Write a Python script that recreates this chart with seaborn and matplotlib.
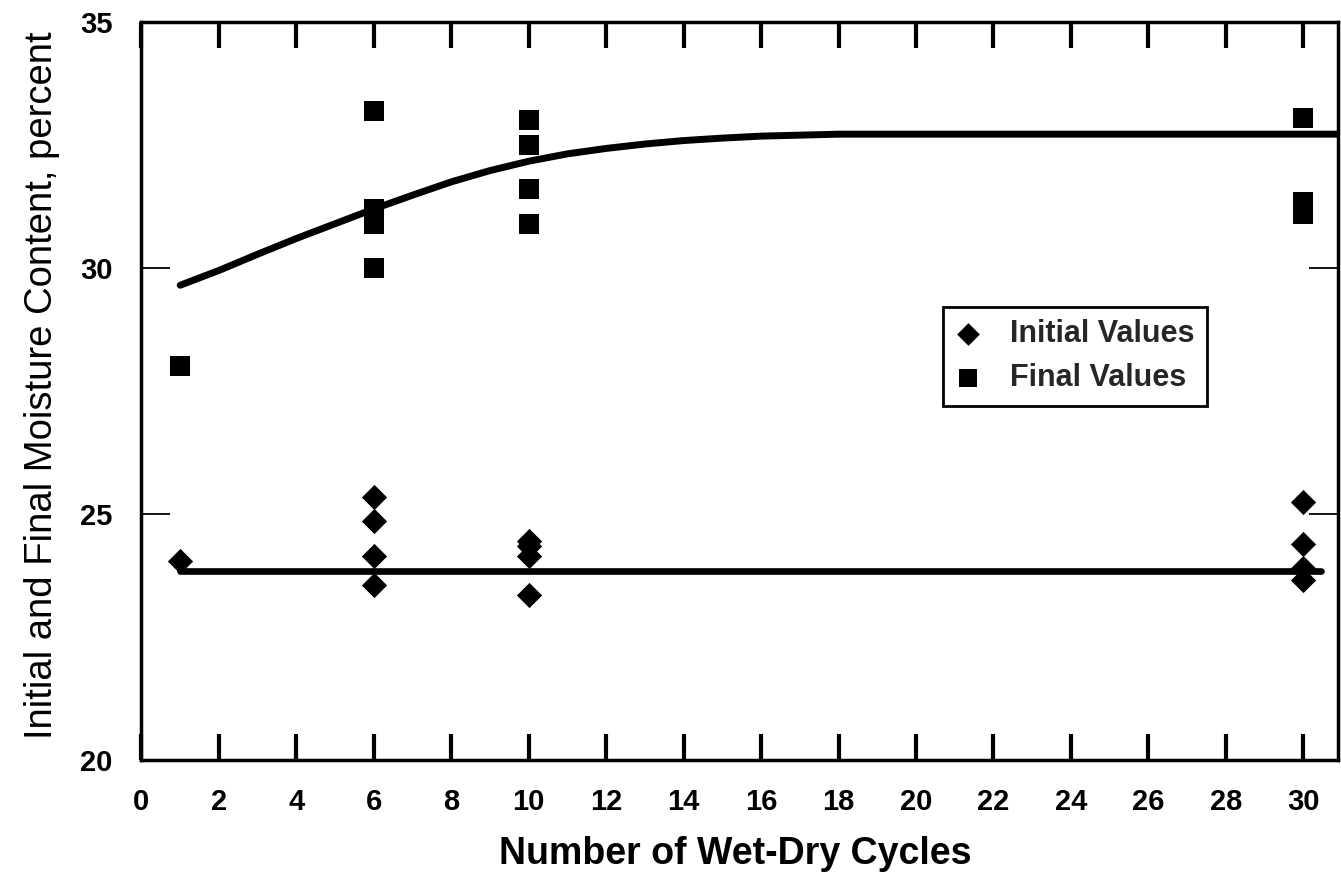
import matplotlib
matplotlib.use("Agg")
import matplotlib.pyplot as plt
import pandas as pd
import seaborn as sns

# Moisture content measured at each number of wet-dry cycles
cycles_initial = [1, 6, 6, 6, 6, 10, 10, 10, 10, 30, 30, 30, 30]
initial_values = [24.05, 25.35, 24.85, 24.15, 23.55,
                  24.45, 24.35, 24.15, 23.35,
                  25.25, 24.4, 23.9, 23.65]

cycles_final = [1, 6, 6, 6, 6, 10, 10, 10, 10, 30, 30, 30]
final_values = [28.0, 33.2, 31.2, 30.9, 30.0,
                33.0, 32.5, 31.6, 30.9,
                33.05, 31.35, 31.1]

# Trend curve through the final values and level of the initial values
fit_cycles = [1, 2, 3, 4, 5, 6, 7, 8, 9, 10, 11, 12, 13, 14, 15, 16, 17,
              18, 20, 25, 30.9]
fit_final = [29.65, 29.95, 30.28, 30.6, 30.9, 31.2, 31.48, 31.75, 31.98,
             32.17, 32.32, 32.43, 32.52, 32.59, 32.64, 32.68, 32.7,
             32.72, 32.72, 32.72, 32.72]
mean_cycles = [1, 30.45]
mean_initial = [23.85, 23.85]

x_ticks = list(range(0, 31, 2))
y_ticks = [20, 25, 30, 35]

sns.set_style("white")
plt.rcParams["font.family"] = ["Liberation Sans", "DejaVu Sans"]

initial_df = pd.DataFrame({"cycles": cycles_initial, "moisture": initial_values})
final_df = pd.DataFrame({"cycles": cycles_final, "moisture": final_values})

fig = plt.figure(figsize=(13.41, 8.76), dpi=100)
ax = fig.add_axes([0.1055, 0.1324, 0.8923, 0.8425])

sns.lineplot(x=fit_cycles, y=fit_final, color="black", lw=5,
             solid_capstyle="round", solid_joinstyle="round", ax=ax,
             legend=False)
sns.lineplot(x=mean_cycles, y=mean_initial, color="black", lw=4.8,
             solid_capstyle="round", ax=ax, legend=False)

sns.scatterplot(data=initial_df, x="cycles", y="moisture", marker="D",
                s=165, color="black", linewidth=0, ax=ax,
                label="Initial Values", zorder=3)
sns.scatterplot(data=final_df, x="cycles", y="moisture", marker="s",
                s=225, color="black", linewidth=0, ax=ax,
                label="Final Values", zorder=3)

ax.set_xlim(0, 30.9)
ax.set_ylim(20, 35)
ax.set_xticks(x_ticks)
ax.set_yticks(y_ticks)

for side in ["left", "right", "top", "bottom"]:
    ax.spines[side].set_visible(True)
    ax.spines[side].set_color("black")
    ax.spines[side].set_linewidth(2.5)

ax.tick_params(axis="x", direction="in", length=19, width=3, top=True,
               bottom=True, pad=20, labelsize=21, colors="black")
ax.tick_params(axis="y", direction="in", length=21, width=1.3, left=True,
               right=True, pad=21, labelsize=21, colors="black")
for lab in ax.get_xticklabels() + ax.get_yticklabels():
    lab.set_fontweight("bold")

ax.set_xlabel("Number of Wet-Dry Cycles", fontsize=27, fontweight="bold",
              color="black")
ax.xaxis.set_label_coords(0.496, -0.103)
ax.set_ylabel("Initial and Final Moisture Content, percent", fontsize=27.5,
              color="black")
ax.yaxis.set_label_coords(-0.068, 0.508)

leg = ax.legend(loc="upper left", bbox_to_anchor=(0.670, 0.614),
                borderaxespad=0, frameon=True, fancybox=False,
                framealpha=1, edgecolor="black",
                prop={"size": 22, "weight": "bold"},
                handlelength=0.85, handletextpad=0.95, borderpad=0.4,
                labelspacing=0.47, markerscale=0.9)
leg.get_frame().set_linewidth(2)

fig.savefig("out.png", dpi=100, facecolor="white")
